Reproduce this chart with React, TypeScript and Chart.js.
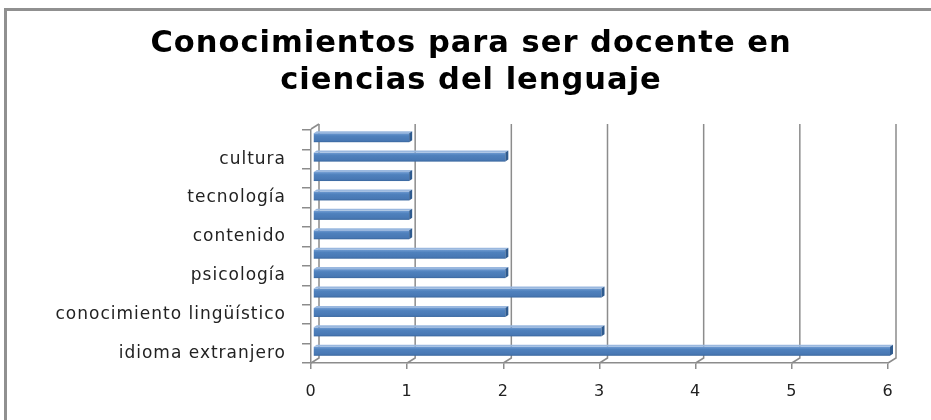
import React, { useEffect, useRef } from "react";
import { Chart, registerables } from "chart.js";

Chart.register(...registerables);

const titleLines = ["Conocimientos para ser docente en", "ciencias del lenguaje"];
const categories = [
  "",
  "cultura",
  "",
  "tecnología",
  "",
  "contenido",
  "",
  "psicología",
  "",
  "conocimiento lingüístico",
  "",
  "idioma extranjero",
];
const values = [1, 2, 1, 1, 1, 1, 2, 2, 3, 2, 3, 6];
const xTicks = [0, 1, 2, 3, 4, 5, 6];

const GRID = "#8c8c8c";
const FONT = "'DejaVu Sans', sans-serif";

const spacingPlugin = {
  id: "spacing",
  beforeDraw(chart: any) {
    chart.ctx.letterSpacing = "1px";
  },
  beforeLayout(chart: any) {
    chart.ctx.letterSpacing = "1px";
  },
};

const wallPlugin = {
  id: "wall3d",
  beforeDatasetsDraw(chart: any) {
    const { ctx, chartArea, scales } = chart;
    const { left, top, bottom } = chartArea;
    const x = scales.x;
    const dx = 8;
    const dy = 5;
    ctx.save();
    ctx.strokeStyle = GRID;
    ctx.lineWidth = 1.5;
    xTicks.forEach((v) => {
      const px = x.getPixelForValue(v);
      ctx.beginPath();
      ctx.moveTo(px + dx, top - 6);
      ctx.lineTo(px + dx, bottom - dy);
      ctx.lineTo(px, bottom);
      ctx.stroke();
    });
    ctx.beginPath();
    ctx.moveTo(left, top - 1);
    ctx.lineTo(left + dx, top - 6);
    ctx.stroke();
    ctx.restore();
  },
};

const barPlugin = {
  id: "bar3d",
  afterDatasetsDraw(chart: any) {
    const { ctx } = chart;
    const meta = chart.getDatasetMeta(0);
    const ox = 2;
    const oy = -2;
    ctx.save();
    meta.data.forEach((el: any) => {
      const p = el.getProps(["x", "y", "base", "height"], true);
      const x = p.x + ox;
      const base = p.base + ox;
      const height = p.height;
      const t = p.y - height / 2 + oy;
      const g = ctx.createLinearGradient(0, t, 0, t + height);
      g.addColorStop(0, "#6f9bd2");
      g.addColorStop(0.3, "#4f81bd");
      g.addColorStop(0.8, "#4878b4");
      g.addColorStop(1, "#3a679e");
      ctx.fillStyle = g;
      ctx.fillRect(base, t, x - base, height);
      ctx.fillStyle = "#9ab8df";
      ctx.beginPath();
      ctx.moveTo(base, t);
      ctx.lineTo(base + 3, t - 2);
      ctx.lineTo(x + 3, t - 2);
      ctx.lineTo(x, t);
      ctx.closePath();
      ctx.fill();
      ctx.fillStyle = "#2f5b8f";
      ctx.beginPath();
      ctx.moveTo(x, t);
      ctx.lineTo(x + 3, t - 2);
      ctx.lineTo(x + 3, t + height - 2);
      ctx.lineTo(x, t + height);
      ctx.closePath();
      ctx.fill();
    });
    ctx.restore();
  },
};

export default function App() {
  const ref = useRef<HTMLCanvasElement | null>(null);

  useEffect(() => {
    if (!ref.current) return;
    const chart = new Chart(ref.current, {
      type: "bar",
      data: {
        labels: categories,
        datasets: [
          {
            data: values,
            backgroundColor: "rgba(0,0,0,0)",
            borderWidth: 0,
            barThickness: 9,
          },
        ],
      },
      options: {
        indexAxis: "y",
        animation: false,
        responsive: false,
        devicePixelRatio: 1,
        layout: { padding: { top: 0, left: 54, right: 43, bottom: 0 } },
        plugins: {
          legend: { display: false },
          tooltip: { enabled: false },
          title: {
            display: true,
            text: titleLines,
            color: "#000",
            font: { family: FONT, size: 30.5, weight: "bold", lineHeight: 1.213 },
            padding: { top: 25.5, bottom: 30.5 },
          },
        },
        scales: {
          x: {
            min: 0,
            max: 6,
            ticks: {
              stepSize: 1,
              color: "#222",
              font: { family: FONT, size: 16 },
              padding: 13,
            },
            grid: {
              drawOnChartArea: false,
              drawTicks: true,
              tickLength: 6,
              color: GRID,
              lineWidth: 1.5,
            },
            border: { display: true, color: GRID, width: 1.5 },
            afterFit: (s: any) => {
              s.height = 57;
            },
          },
          y: {
            ticks: {
              autoSkip: false,
              color: "#222",
              font: { family: FONT, size: 17 },
              padding: 16,
            },
            grid: {
              drawOnChartArea: false,
              offset: true,
              tickLength: 9,
              color: GRID,
              lineWidth: 1.5,
            },
            border: { display: true, color: GRID, width: 1.5 },
            afterFit: (s: any) => {
              s.width = 257;
            },
          },
        },
      },
      plugins: [spacingPlugin, wallPlugin, barPlugin],
    } as any);
    return () => chart.destroy();
  }, []);

  return (
    <div style={{ position: "fixed", left: 0, top: 0, width: 931, height: 420, overflow: "hidden", background: "#fff" }}>
      <div
        style={{
          position: "absolute",
          left: 4,
          top: 8,
          width: 1100,
          height: 600,
          borderTop: "3px solid #909090",
          borderLeft: "3px solid #909090",
        }}
      />
      <canvas ref={ref} width={931} height={420} style={{ position: "absolute", left: 0, top: 0 }} />
    </div>
  );
}
